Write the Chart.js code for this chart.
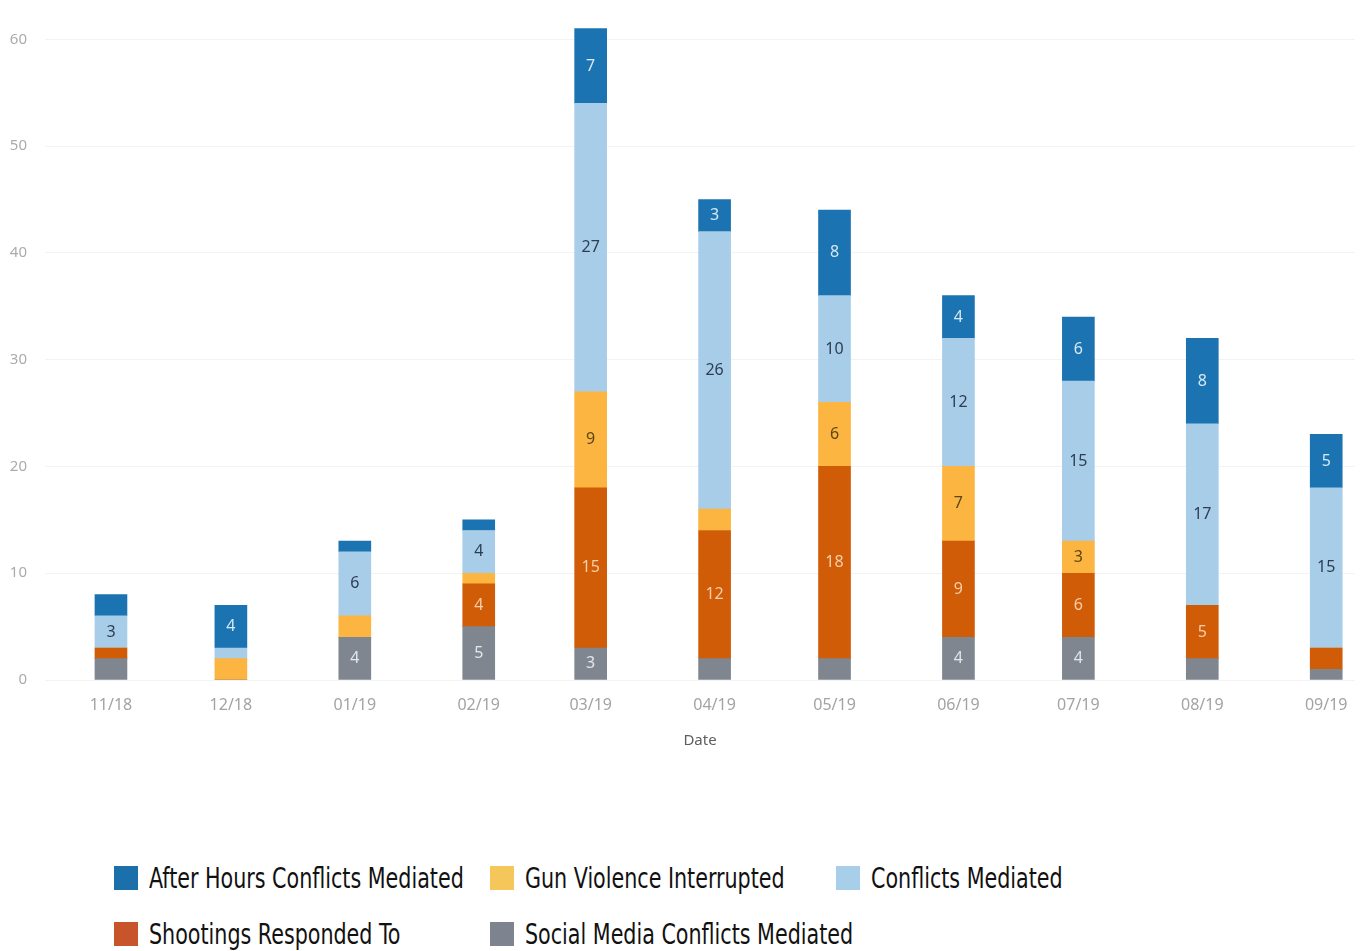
<!DOCTYPE html>
<html>
<head>
<meta charset="utf-8">
<script src="https://cdn.jsdelivr.net/npm/chart.js@4/dist/chart.umd.min.js"></script>
<style>
    body { margin: 0; background: #fff; width: 1364px; height: 951px; overflow: hidden; position: relative; }
    #chartBox { position: absolute; left: 0; top: -9px; width: 1364px; height: 779px; }
    #legend { position: absolute; left: 114px; top: 866px; display: grid; grid-template-columns: 376px 346px 300px; row-gap: 32px; }
    .item { display: flex; align-items: center; font-family: "Liberation Sans Narrow", "DejaVu Sans Condensed", sans-serif; font-size: 28px; color: #111; white-space: nowrap; height: 24px; }
    .sw { width: 24px; height: 24px; margin-right: 11px; flex: none; }
    .txt { display: inline-block; transform: scaleX(0.82); transform-origin: left center; }
</style>
</head>
<body>
<div id="chartBox"><canvas id="barChart"></canvas></div>
<div id="legend"></div>
<script>
// months shown on the x axis (continuous date axis, one bar per month)
const months = ['11/18', '12/18', '01/19', '02/19', '03/19', '04/19', '05/19', '06/19', '07/19', '08/19', '09/19'];
const monthDates = ['2018-11-01', '2018-12-01', '2019-01-01', '2019-02-01', '2019-03-01', '2019-04-01',
    '2019-05-01', '2019-06-01', '2019-07-01', '2019-08-01', '2019-09-01'];
const yTicks = [0, 10, 20, 30, 40, 50, 60];

// series, bottom of the stack first
const socialMedia = [2, 0, 4, 5, 3, 2, 2, 4, 4, 2, 1];
const shootings = [1, 0, 0, 4, 15, 12, 18, 9, 6, 5, 2];
const gunViolence = [0, 2, 2, 1, 9, 2, 6, 7, 3, 0, 0];
const conflicts = [3, 1, 6, 4, 27, 26, 10, 12, 15, 17, 15];
const afterHours = [2, 4, 1, 1, 7, 3, 8, 4, 6, 8, 5];

const seriesNames = ['Social Media Conflicts Mediated', 'Shootings Responded To', 'Gun Violence Interrupted',
    'Conflicts Mediated', 'After Hours Conflicts Mediated'];
const seriesValues = [socialMedia, shootings, gunViolence, conflicts, afterHours];
const barColors = ['#7f8690', '#d05c08', '#fbb540', '#a7cde9', '#1b73b1'];
const textColors = ['#e4e6ea', '#f7cfa8', '#5b4716', '#2c3e52', '#d7e8f5'];
const legendColors = ['#7d848f', '#c8542b', '#f5c75a', '#a7cfea', '#1b6fab'];
const legendOrder = [4, 2, 3, 1, 0];

// days since the first month, so bar spacing follows the calendar
const day0 = new Date(monthDates[0]);
const xDays = monthDates.map(d => Math.round((new Date(d) - day0) / 86400000));

const datasets = seriesValues.map((vals, i) => ({
    label: seriesNames[i],
    data: vals.map((v, j) => ({ x: xDays[j], y: v })),
    backgroundColor: barColors[i],
    barThickness: 32,
    borderWidth: 0
}));

// values written inside the segments
const segmentLabels = {
    id: 'segmentLabels',
    afterDatasetsDraw(chart) {
        const ctx = chart.ctx;
        ctx.save();
        ctx.font = '16px "Noto Sans", sans-serif';
        ctx.textAlign = 'center';
        ctx.textBaseline = 'middle';
        chart.data.datasets.forEach((ds, i) => {
            chart.getDatasetMeta(i).data.forEach((el, j) => {
                const v = seriesValues[i][j];
                if (v < 3) return;
                ctx.fillStyle = textColors[i];
                ctx.fillText(v, el.x, (el.y + el.base) / 2);
            });
        });
        ctx.restore();
    }
};

new Chart(document.getElementById('barChart').getContext('2d'), {
    type: 'bar',
    data: { datasets: datasets },
    plugins: [segmentLabels],
    options: {
        responsive: true,
        maintainAspectRatio: false,
        animation: false,
        layout: { padding: { top: 10, right: 9, left: 0, bottom: 0 } },
        plugins: { legend: { display: false }, tooltip: { enabled: false } },
        scales: {
            x: {
                type: 'linear',
                stacked: true,
                offset: false,
                min: -16.5,
                max: 311.2,
                afterBuildTicks: s => { s.ticks = xDays.map(v => ({ value: v })); },
                afterFit: s => { s.height = 90; },
                grid: { display: false, drawTicks: false },
                border: { display: false },
                ticks: {
                    autoSkip: false,
                    maxRotation: 0,
                    padding: 16,
                    color: '#a3a3a3',
                    font: { family: '"Noto Sans", sans-serif', size: 16 },
                    callback: v => months[xDays.indexOf(v)]
                },
                title: {
                    display: true,
                    text: 'Date',
                    color: '#5e5e5e',
                    font: { family: '"Noto Sans", sans-serif', size: 15 },
                    padding: { top: 0, bottom: 20 }
                }
            },
            y: {
                stacked: true,
                min: 0,
                max: 62,
                afterBuildTicks: s => { s.ticks = yTicks.map(v => ({ value: v })); },
                afterFit: s => { s.width = 45; },
                grid: { color: '#f3f3f3', drawTicks: false },
                border: { display: false },
                ticks: {
                    padding: 18,
                    color: '#ababab',
                    font: { family: '"Noto Sans", sans-serif', size: 15 }
                }
            }
        }
    }
});

// legend in the same 3-column layout as the original
const legend = document.getElementById('legend');
legendOrder.forEach(i => {
    const item = document.createElement('div');
    item.className = 'item';
    item.innerHTML = '<span class="sw" style="background:' + legendColors[i] + '"></span><span class="txt">' + seriesNames[i] + '</span>';
    legend.appendChild(item);
});
</script>
</body>
</html>
